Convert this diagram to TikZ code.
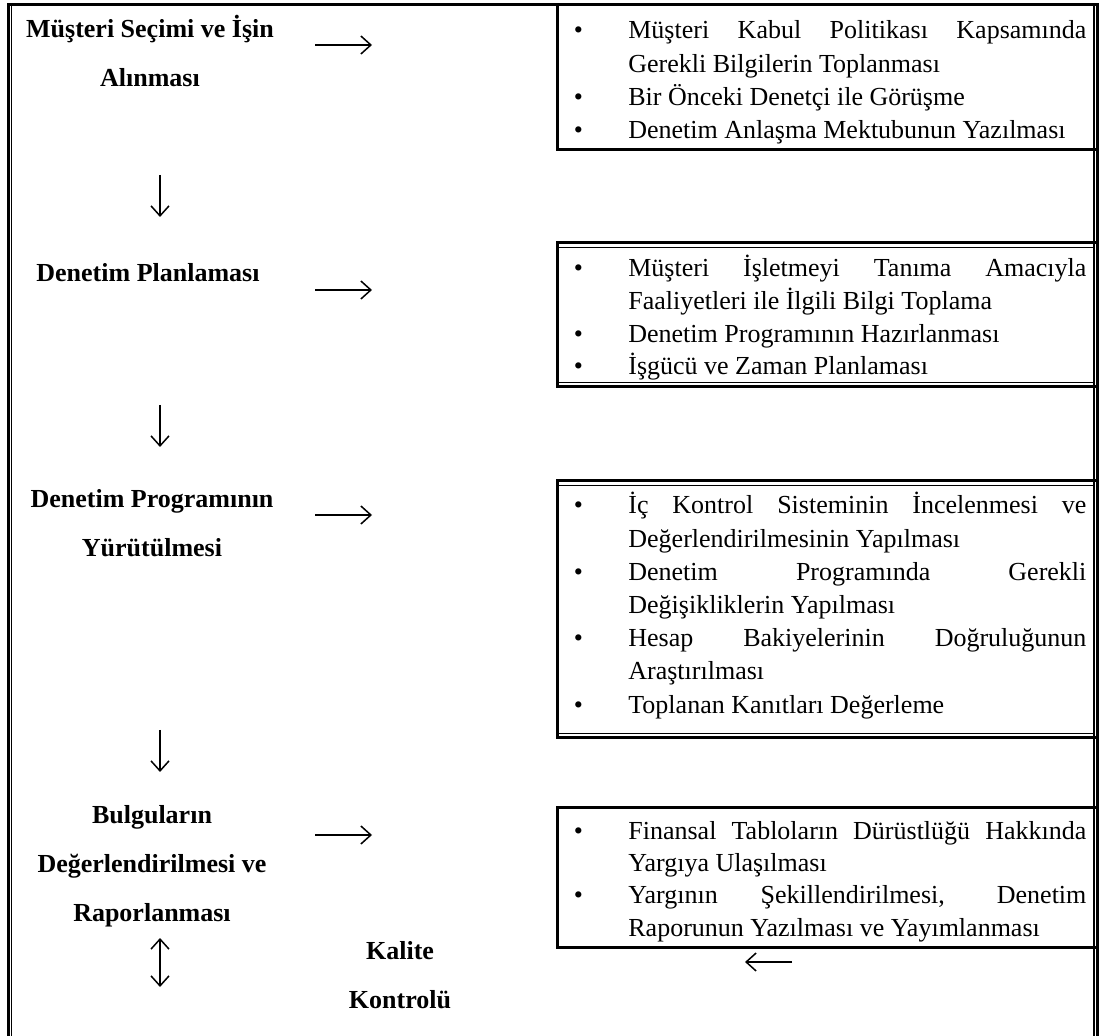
\documentclass[tikz,border=0pt]{standalone}
\usepackage{fontspec}
\setmainfont{Liberation Serif}
\usetikzlibrary{arrows.meta}

% no hyphenation, generous spacing for the justified lists
\hyphenpenalty=10000
\exhyphenpenalty=10000
\tolerance=9999

% bullet hanging to the left of a list line
\newcommand\bfirst{\noindent\llap{\textbullet\hspace{22.75pt}}}
\newcommand\bpoint{\par\bfirst}

\begin{document}
\begin{tikzpicture}[x=0.5pt,y=-0.5pt,
  title/.style={font=\fontsize{13}{24.5}\selectfont\bfseries, align=center, inner sep=0pt},
  listtext/.style={font=\fontsize{13}{16.6}\selectfont, text width=229pt, align=justify, inner sep=0pt, anchor=base west},
  thickrule/.style={line width=1.5pt},
  thinrule/.style={line width=0.6pt},
  outerrule/.style={line width=1.35pt},
  flow/.style={line width=0.75pt, -{Straight Barb[length=5pt,width=9pt]}},
  twoway/.style={line width=0.75pt, {Straight Barb[length=5pt,width=9pt]}-{Straight Barb[length=5pt,width=9pt]}},
]
\useasboundingbox (0,0) rectangle (1103,1036);

% page frame: thick top, double left and right sides
\draw[thickrule] (7,5) -- (1099,5);
\draw[outerrule] (8.3,4) -- (8.3,1040);
\draw[thinrule] (11.6,6) -- (11.6,1040);
\draw[thinrule] (1094,6) -- (1094,1040);
\draw[outerrule] (1097.6,4) -- (1097.6,1040);

% list boxes
\draw[thickrule] (557,5) -- (557,150) -- (1097,150);
\draw[thickrule] (1097,243) -- (557,243) -- (557,387) -- (1097,387);
\draw[thinrule] (558,247.5) -- (1094,247.5) (558,382.5) -- (1094,382.5);
\draw[thickrule] (1097,481) -- (557,481) -- (557,738) -- (1097,738);
\draw[thinrule] (558,485.5) -- (1094,485.5) (558,733.5) -- (1094,733.5);
\draw[thickrule] (1097,808) -- (557,808) -- (557,947) -- (1097,947);

% stage titles
\node[title] (t1) at (150,51) {Müşteri Seçimi ve İşin\\Alınması};
\node[title] (t2) at (148,273) {Denetim Planlaması};
\node[title] (t3) at (152,523) {Denetim Programının\\Yürütülmesi};
\node[title] (t4) at (152,866) {Bulguların\\Değerlendirilmesi ve\\Raporlanması};
\node[title] (kk) at (400,975) {Kalite\\Kontrolü};

% stage contents
\node[listtext] (b1) at (628,39) {\bfirst Müşteri Kabul Politikası Kapsamında\linebreak Gerekli Bilgilerin Toplanması
\bpoint Bir Önceki Denetçi ile Görüşme
\bpoint Denetim Anlaşma Mektubunun Yazılması};
\node[listtext, font=\fontsize{13}{16.3}\selectfont] (b2) at (628,277) {\bfirst Müşteri İşletmeyi Tanıma Amacıyla\linebreak Faaliyetleri ile İlgili Bilgi Toplama
\bpoint Denetim Programının Hazırlanması
\bpoint İşgücü ve Zaman Planlaması};
\node[listtext] (b3) at (628,514) {\bfirst İç Kontrol Sisteminin İncelenmesi ve\linebreak Değerlendirilmesinin Yapılması
\bpoint Denetim Programında Gerekli\linebreak Değişikliklerin Yapılması
\bpoint Hesap Bakiyelerinin Doğruluğunun\linebreak Araştırılması
\bpoint Toplanan Kanıtları Değerleme};
\node[listtext, font=\fontsize{13}{16}\selectfont] (b4) at (628,840) {\bfirst Finansal Tabloların Dürüstlüğü Hakkında\linebreak Yargıya Ulaşılması
\bpoint Yargının Şekillendirilmesi, Denetim\linebreak Raporunun Yazılması ve Yayımlanması};

% arrows towards the contents
\coordinate (r1a) at (315,45);  \coordinate (r1b) at (372,45);
\coordinate (r2a) at (315,290); \coordinate (r2b) at (372,290);
\coordinate (r3a) at (315,515); \coordinate (r3b) at (372,515);
\coordinate (r4a) at (315,835); \coordinate (r4b) at (372,835);
\draw[flow] (r1a) -- (r1b);
\draw[flow] (r2a) -- (r2b);
\draw[flow] (r3a) -- (r3b);
\draw[flow] (r4a) -- (r4b);

% arrows between the stages
\coordinate (d1a) at (160,175); \coordinate (d1b) at (160,217);
\coordinate (d2a) at (160,405); \coordinate (d2b) at (160,447);
\coordinate (d3a) at (160,730); \coordinate (d3b) at (160,772);
\draw[flow] (d1a) -- (d1b);
\draw[flow] (d2a) -- (d2b);
\draw[flow] (d3a) -- (d3b);

% quality control links
\coordinate (q1) at (160,938); \coordinate (q2) at (160,987);
\draw[twoway] (q1) -- (q2);
\coordinate (k1) at (792,962); \coordinate (k2) at (745,962);
\draw[flow] (k1) -- (k2);
\end{tikzpicture}
\end{document}
